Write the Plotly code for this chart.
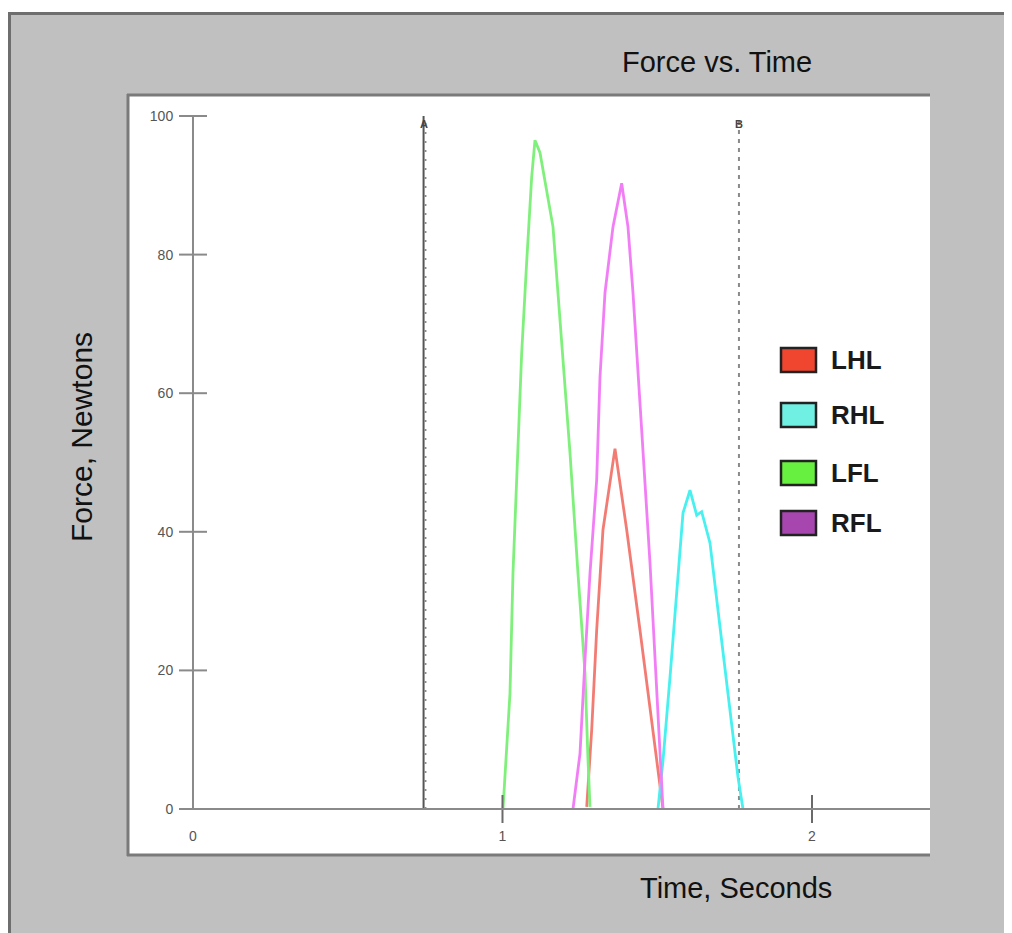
import plotly.graph_objects as go

# ---------------- data ----------------
t_LHL = [1.2721, 1.2882, 1.3043, 1.3247, 1.3635, 1.4013, 1.4443, 1.4863, 1.5186]
f_LHL = [0.3, 11.4, 25.8, 40.3, 52.0, 40.3, 25.8, 11.4, 0.0]

t_RHL = [1.5024, 1.5186, 1.5412, 1.5628, 1.5832, 1.6058, 1.6275, 1.6436, 1.6704, 1.7027, 1.7351, 1.7609, 1.7771]
f_RHL = [0.0, 7.0, 19.0, 31.2, 42.7, 46.0, 42.4, 42.9, 38.4, 26.3, 14.3, 4.6, 0.0]

t_LFL = [1.0016, 1.0242, 1.0339, 1.0501, 1.0620, 1.0780, 1.0943, 1.1050, 1.1212, 1.1632, 1.1858, 1.2181, 1.2439, 1.2666, 1.2763, 1.2827]
f_LFL = [0.0, 16.7, 34.0, 53.2, 65.8, 78.8, 91.2, 96.5, 94.7, 84.0, 70.6, 51.4, 34.0, 19.6, 7.1, 0.3]

t_RFL = [1.2278, 1.2504, 1.2666, 1.2827, 1.3043, 1.3150, 1.3312, 1.3570, 1.3851, 1.4055, 1.4216, 1.4378, 1.4497, 1.4766, 1.4982, 1.5186]
f_RFL = [0.0, 8.0, 21.5, 34.0, 47.5, 62.3, 74.5, 84.0, 90.3, 84.0, 74.5, 62.3, 54.7, 35.5, 16.2, 0.0]

series_names = ["LHL", "RHL", "LFL", "RFL"]
line_colors = ["#F27C74", "#48F0F0", "#80F07C", "#F27EF6"]
legend_colors = ["#F0462F", "#70F0E2", "#68F040", "#A846B0"]

cursor_times = [0.745, 1.764]
cursor_labels = ["A", "B"]

y_ticks = [0, 20, 40, 60, 80, 100]
x_ticks = [0, 1, 2]

title_text = "Force vs. Time"
x_title = "Time, Seconds"
y_title = "Force, Newtons"

# ---------------- geometry ----------------
# the page body adds an 8px margin, so all positions are shifted by OFF
OFF = 8
W, H = 1012, 933
ML = 128 - OFF
MT = 95 - OFF
MR = W - (930 - OFF)
MB = H - (855 - OFF)
PW, PH = W - ML - MR, H - MT - MB
X_RANGE = [-0.2100, 2.3813]
Y_RANGE = [-6.638, 103.03]


def px(x):
    return (x - OFF - ML) / PW


def py(y):
    return (H - MB - (y - OFF)) / PH


FONT = "Liberation Sans, Arial, sans-serif"

fig = go.Figure()

# cursors
fig.add_trace(go.Scatter(x=[cursor_times[0]] * 2, y=[0, 100], mode="lines",
                         line=dict(color="#555555", width=2), hoverinfo="skip", showlegend=False))
fig.add_trace(go.Scatter(x=[cursor_times[0] + 0.006] * 2, y=[0, 100], mode="lines",
                         line=dict(color="#8a8a8a", width=2, dash="2px,7px"), hoverinfo="skip", showlegend=False))
fig.add_trace(go.Scatter(x=[cursor_times[1]] * 2, y=[0, 100], mode="lines",
                         line=dict(color="#8a8a8a", width=2, dash="4px,5px"), hoverinfo="skip", showlegend=False))

# series
for t, f, name, c in zip([t_LHL, t_RHL, t_LFL, t_RFL], [f_LHL, f_RHL, f_LFL, f_RFL], series_names, line_colors):
    fig.add_trace(go.Scatter(x=t, y=f, mode="lines", name=name,
                             line=dict(color=c, width=2.8), showlegend=False))

# tick marks crossing the axes
fig.add_trace(go.Scatter(x=[0] * len(y_ticks), y=y_ticks, mode="markers",
                         marker=dict(symbol="line-ew", size=20, line=dict(color="#8a8a8a", width=2)),
                         hoverinfo="skip", showlegend=False))
fig.add_trace(go.Scatter(x=x_ticks[1:], y=[0] * (len(x_ticks) - 1), mode="markers",
                         marker=dict(symbol="line-ns", size=20, line=dict(color="#6a6a6a", width=2)),
                         hoverinfo="skip", showlegend=False))

shapes = []
# axis lines
shapes.append(dict(type="line", xref="x", yref="y", x0=0, x1=0, y0=0, y1=100,
                   line=dict(color="#8a8a8a", width=2)))
shapes.append(dict(type="line", xref="x", yref="y", x0=0, x1=X_RANGE[1], y0=0, y1=0,
                   line=dict(color="#8a8a8a", width=2)))
# white margin at top of the screenshot
shapes.append(dict(type="rect", xref="paper", yref="paper", x0=px(0), x1=px(W + 20), y0=py(12), y1=py(0),
                   fillcolor="white", line=dict(width=0)))
# outer frame edges
shapes.append(dict(type="line", xref="paper", yref="paper", x0=px(8), x1=px(W + 20), y0=py(13.5), y1=py(13.5),
                   line=dict(color="#6e6e6e", width=3)))
shapes.append(dict(type="line", xref="paper", yref="paper", x0=px(9.5), x1=px(9.5), y0=py(12), y1=py(H + 20),
                   line=dict(color="#6e6e6e", width=3)))
# plot area edges
shapes.append(dict(type="line", xref="paper", yref="paper", x0=px(127), x1=px(930), y0=py(95), y1=py(95),
                   line=dict(color="#7a7a7a", width=3)))
shapes.append(dict(type="line", xref="paper", yref="paper", x0=px(128), x1=px(128), y0=py(94), y1=py(856),
                   line=dict(color="#7a7a7a", width=3)))
shapes.append(dict(type="line", xref="paper", yref="paper", x0=px(127), x1=px(930), y0=py(855), y1=py(855),
                   line=dict(color="#7a7a7a", width=3)))

annotations = []
annotations.append(dict(text=title_text, x=px(717), y=py(62), xref="paper", yref="paper", showarrow=False,
                        xanchor="center", yanchor="middle",
                        font=dict(family=FONT, size=29, color="#111111")))
annotations.append(dict(text=x_title, x=px(736), y=py(888), xref="paper", yref="paper", showarrow=False,
                        xanchor="center", yanchor="middle",
                        font=dict(family=FONT, size=29, color="#111111")))
annotations.append(dict(text=y_title, x=px(82), y=py(437), xref="paper", yref="paper", showarrow=False,
                        xanchor="center", yanchor="middle",
                        textangle=-90, font=dict(family=FONT, size=30, color="#111111")))

# legend
leg_y = [360, 415, 473, 523]
for name, c, yc in zip(series_names, legend_colors, leg_y):
    shapes.append(dict(type="rect", xref="paper", yref="paper", x0=px(781), x1=px(816),
                       y0=py(yc + 12), y1=py(yc - 12), fillcolor=c, line=dict(color="#222222", width=2.5)))
    annotations.append(dict(text="<b>" + name + "</b>", x=px(829), y=py(yc), xref="paper", yref="paper",
                            xanchor="left", yanchor="middle", showarrow=False,
                            font=dict(family=FONT, size=26, color="#1a1a1a")))

# cursor labels
for t, lab in zip(cursor_times, cursor_labels):
    annotations.append(dict(text="<b>" + lab + "</b>", x=t, y=100, xref="x", yref="y", xanchor="center",
                            yanchor="bottom", showarrow=False,
                            yshift=-16, font=dict(family=FONT, size=11, color="#444444")))

fig.update_layout(
    width=W, height=H,
    margin=dict(l=ML, r=MR, t=MT, b=MB, pad=0),
    paper_bgcolor="#c0c0c0", plot_bgcolor="white",
    showlegend=False,
    shapes=shapes, annotations=annotations,
    xaxis=dict(range=X_RANGE, anchor="free", position=(855 - 809) / PH,
               tickvals=x_ticks, ticks="outside", ticklen=14, tickcolor="rgba(0,0,0,0)",
               showgrid=False, zeroline=False, showline=False,
               tickfont=dict(family=FONT, size=14, color="#555555")),
    yaxis=dict(range=Y_RANGE, anchor="free", position=(193 - 128) / PW,
               tickvals=y_ticks, ticks="outside", ticklen=17, tickcolor="rgba(0,0,0,0)",
               showgrid=False, zeroline=False, showline=False,
               tickfont=dict(family=FONT, size=14, color="#555555")),
)

fig.write_html("out.html")
